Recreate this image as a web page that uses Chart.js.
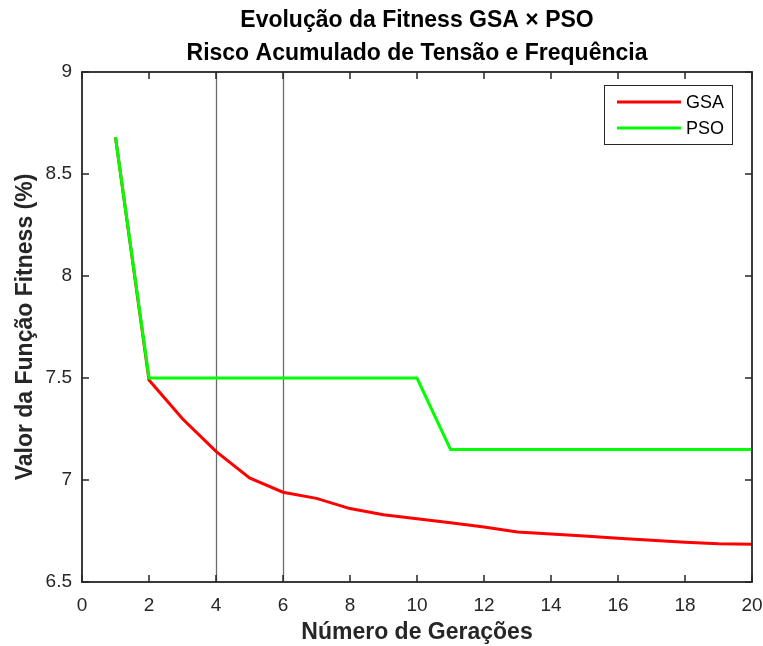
<!DOCTYPE html>
<html><head><meta charset="utf-8">
<script src="https://cdn.jsdelivr.net/npm/chart.js@4"></script>
<style>html,body{margin:0;padding:0;background:#fff}#wrap{width:763px;height:646px}</style>
</head><body><div id="wrap"><canvas id="c" width="763" height="646"></canvas></div>
<script>
const generations = [1,2,3,4,5,6,7,8,9,10,11,12,13,14,15,16,17,18,19,20];
const gsaValues = [8.68,7.49,7.30,7.14,7.01,6.94,6.91,6.86,6.83,6.81,6.79,6.77,6.745,6.735,6.725,6.715,6.705,6.695,6.688,6.685];
const psoValues = [8.68,7.50,7.50,7.50,7.50,7.50,7.50,7.50,7.50,7.50,7.15,7.15,7.15,7.15,7.15,7.15,7.15,7.15,7.15,7.15];
const xTicks = [0,2,4,6,8,10,12,14,16,18,20];
const yTicks = [6.5,7,7.5,8,8.5,9];
const markerLines = [4,6];
const titleLines = ['Evolução da Fitness GSA \u00d7 PSO','Risco Acumulado de Tensão e Frequência'];
const seriesNames = ['GSA','PSO'];
const FONT = "'Liberation Sans', Arial, sans-serif";
const AX = '#262626';

const deco = {
  id:'deco',
  beforeDatasetsDraw(chart){
    const {ctx, chartArea:a, scales:{x,y}} = chart;
    ctx.save();
    ctx.strokeStyle = '#6a6a6a';
    ctx.lineWidth = 1.3;
    markerLines.forEach(v=>{
      const px = Math.round(x.getPixelForValue(v))+0.5;
      ctx.beginPath(); ctx.moveTo(px,a.top); ctx.lineTo(px,a.bottom); ctx.stroke();
    });
    ctx.restore();
  },
  afterDatasetsDraw(chart){
    const {ctx, chartArea:a, scales:{x,y}} = chart;
    ctx.save();
    ctx.strokeStyle = AX; ctx.lineWidth = 1.8;
    ctx.strokeRect(a.left, a.top, a.right-a.left, a.bottom-a.top);
    ctx.lineWidth = 1.5;
    const tl = 7;
    xTicks.forEach(v=>{
      const px = x.getPixelForValue(v);
      ctx.beginPath();
      ctx.moveTo(px,a.bottom); ctx.lineTo(px,a.bottom-tl);
      ctx.moveTo(px,a.top); ctx.lineTo(px,a.top+tl);
      ctx.stroke();
    });
    yTicks.forEach(v=>{
      const py = y.getPixelForValue(v);
      ctx.beginPath();
      ctx.moveTo(a.left,py); ctx.lineTo(a.left+tl,py);
      ctx.moveTo(a.right,py); ctx.lineTo(a.right-tl,py);
      ctx.stroke();
    });
    // titles
    ctx.fillStyle = '#000';
    ctx.font = 'bold 23px '+FONT;
    ctx.textAlign='center'; ctx.textBaseline='middle';
    const cx = (a.left+a.right)/2;
    ctx.fillText(titleLines[0], cx, 21);
    ctx.fillText(titleLines[1], cx, 54);
    // legend
    const lx = 604, ly = 85, lw = 128, lh = 59;
    ctx.fillStyle='#fff'; ctx.fillRect(lx,ly,lw,lh);
    ctx.strokeStyle = AX; ctx.lineWidth = 1;
    ctx.strokeRect(lx+0.5,ly+0.5,lw,lh);
    ctx.font = '18px '+FONT; ctx.textAlign='left';
    chart.data.datasets.forEach((ds,i)=>{
      const yy = ly + 17 + i*26;
      ctx.strokeStyle = ds.borderColor; ctx.lineWidth = 3;
      ctx.beginPath(); ctx.moveTo(lx+13,yy); ctx.lineTo(lx+77,yy); ctx.stroke();
      ctx.fillStyle = '#000';
      ctx.fillText(ds.label, lx+82, yy+1);
    });
    ctx.restore();
  }
};

new Chart(document.getElementById('c'), {
  type:'line',
  data:{
    datasets:[
      {label:seriesNames[0], order:1, data:generations.map((g,i)=>({x:g,y:gsaValues[i]})), borderColor:'#ff0000', borderWidth:3, pointRadius:0, tension:0, fill:false},
      {label:seriesNames[1], order:0, data:generations.map((g,i)=>({x:g,y:psoValues[i]})), borderColor:'#00ff00', borderWidth:3, pointRadius:0, tension:0, fill:false}
    ]
  },
  options:{
    responsive:false, animation:false, devicePixelRatio:1,
    layout:{padding:{left:0,right:11,top:72,bottom:0}},
    plugins:{legend:{display:false}, tooltip:{enabled:false}, title:{display:false}},
    scales:{
      x:{type:'linear', min:0, max:20,
        afterBuildTicks(s){ s.ticks = xTicks.map(v=>({value:v})); },
        afterFit(s){ s.height = 64; s.paddingRight = 0; s.paddingLeft = 0; },
        grid:{display:false, drawTicks:false}, border:{display:false},
        ticks:{color:AX, font:{family:FONT,size:19}, padding:12, maxRotation:0, autoSkip:false},
        title:{display:true, text:'Número de Gerações', color:AX, font:{family:FONT,size:23,weight:'bold'}, padding:{top:0,bottom:0}}
      },
      y:{type:'linear', min:6.5, max:9,
        afterBuildTicks(s){ s.ticks = yTicks.map(v=>({value:v})); },
        afterFit(s){ s.width = 82; s.paddingTop = 0; s.paddingBottom = 0; },
        grid:{display:false, drawTicks:false}, border:{display:false},
        ticks:{color:AX, font:{family:FONT,size:19}, padding:10, autoSkip:false, callback:v=>String(v)},
        title:{display:true, text:'Valor da Função Fitness (%)', color:AX, font:{family:FONT,size:23,weight:'bold'}, padding:{top:12,bottom:0}}
      }
    }
  },
  plugins:[deco]
});
</script></body></html>
